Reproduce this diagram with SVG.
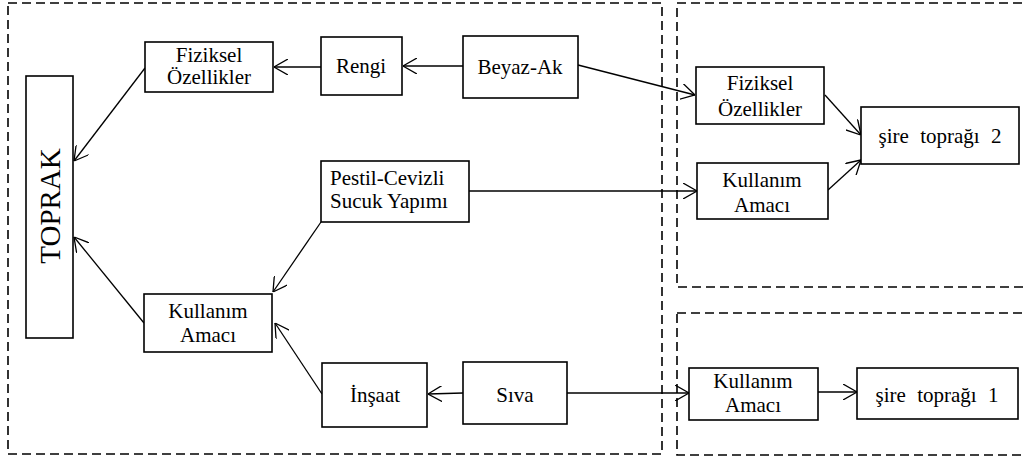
<svg xmlns="http://www.w3.org/2000/svg" width="1025" height="461" viewBox="0 0 1025 461">
  <style>
    .frame { fill: none; stroke: #000; stroke-width: 1.6; stroke-dasharray: 9 5; }
    .box { fill: #fff; stroke: #000; stroke-width: 1.6; }
    .lbl { font-family: "Liberation Serif", "Times New Roman", serif; font-size: 21px; fill: #000; text-anchor: middle; }
    .left { text-anchor: start; }
    .big { font-size: 29px; }
    .edge { fill: none; stroke: #000; stroke-width: 1.3; marker-end: url(#arr); }
  </style>
  <defs>
    <marker id="arr" viewBox="0 0 14 16" refX="14" refY="8" markerWidth="14" markerHeight="16" markerUnits="userSpaceOnUse" orient="auto">
      <path d="M0,0 L14,8 L0,16" fill="none" stroke="#000" stroke-width="1.3"/>
    </marker>
  </defs>
  <rect width="1025" height="461" fill="#fff"/>

  <!-- dashed grouping frames -->
  <g id="frames">
    <rect class="frame" x="8" y="3" width="654" height="451"/>
    <rect class="frame" x="677" y="3" width="360" height="284"/>
    <rect class="frame" x="677" y="313" width="360" height="142"/>
  </g>

  <!-- connectors -->
  <g id="connectors">
    <line class="edge" x1="463" y1="66" x2="403" y2="66"/>
    <line class="edge" x1="321" y1="67" x2="274" y2="67"/>
    <line class="edge" x1="145" y1="68" x2="74" y2="161"/>
    <line class="edge" x1="578" y1="65" x2="695" y2="95"/>
    <line class="edge" x1="825" y1="95" x2="861" y2="135"/>
    <line class="edge" x1="828" y1="190" x2="861" y2="160"/>
    <line class="edge" x1="469" y1="191" x2="697" y2="191"/>
    <line class="edge" x1="321" y1="222" x2="273" y2="292"/>
    <line class="edge" x1="144" y1="323" x2="74" y2="237"/>
    <line class="edge" x1="322" y1="394" x2="275" y2="323"/>
    <line class="edge" x1="463" y1="393" x2="428" y2="394"/>
    <line class="edge" x1="567" y1="393" x2="689" y2="393"/>
    <line class="edge" x1="818" y1="392" x2="857" y2="392"/>
  </g>

  <g id="toprak">
    <rect class="box" x="26" y="76" width="47" height="262"/>
    <text class="lbl big" transform="translate(60,206) rotate(-90)">TOPRAK</text>
  </g>

  <g id="fiziksel-1">
    <rect class="box" x="145" y="42" width="128" height="50"/>
    <text class="lbl" x="209" y="62">Fiziksel</text>
    <text class="lbl" x="209" y="84">Özellikler</text>
  </g>

  <g id="rengi">
    <rect class="box" x="321" y="37" width="81" height="58"/>
    <text class="lbl" x="361" y="73">Rengi</text>
  </g>

  <g id="beyaz-ak">
    <rect class="box" x="463" y="36" width="115" height="62"/>
    <text class="lbl" x="520" y="74">Beyaz-Ak</text>
  </g>

  <g id="pestil">
    <rect class="box" x="321" y="161" width="148" height="61"/>
    <text class="lbl left" x="330" y="185">Pestil-Cevizli</text>
    <text class="lbl left" x="330" y="208">Sucuk Yapımı</text>
  </g>

  <g id="kullanim-1">
    <rect class="box" x="144" y="294" width="128" height="58"/>
    <text class="lbl" x="208" y="318">Kullanım</text>
    <text class="lbl" x="208" y="342">Amacı</text>
  </g>

  <g id="insaat">
    <rect class="box" x="322" y="363" width="105" height="64"/>
    <text class="lbl" x="375" y="402">İnşaat</text>
  </g>

  <g id="siva">
    <rect class="box" x="463" y="362" width="104" height="62"/>
    <text class="lbl" x="515" y="402">Sıva</text>
  </g>

  <g id="fiziksel-2">
    <rect class="box" x="696" y="67" width="128" height="57"/>
    <text class="lbl" x="760" y="90">Fiziksel</text>
    <text class="lbl" x="760" y="116">Özellikler</text>
  </g>

  <g id="kullanim-2">
    <rect class="box" x="697" y="163" width="131" height="56"/>
    <text class="lbl" x="762" y="187">Kullanım</text>
    <text class="lbl" x="762" y="212">Amacı</text>
  </g>

  <g id="sire-2">
    <rect class="box" x="861" y="107" width="158" height="57"/>
    <text class="lbl" x="940" y="143" word-spacing="6">şire toprağı 2</text>
  </g>

  <g id="kullanim-3">
    <rect class="box" x="689" y="368" width="129" height="52"/>
    <text class="lbl" x="753" y="388">Kullanım</text>
    <text class="lbl" x="753" y="412">Amacı</text>
  </g>

  <g id="sire-1">
    <rect class="box" x="857" y="368" width="161" height="51"/>
    <text class="lbl" x="937" y="402" word-spacing="6">şire toprağı 1</text>
  </g>
</svg>
